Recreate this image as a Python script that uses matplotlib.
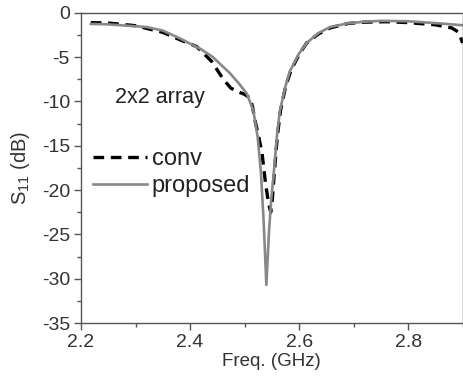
import numpy as np
import matplotlib
matplotlib.use("Agg")
from matplotlib import pyplot as plt
from matplotlib.ticker import MultipleLocator

plt.rcParams['font.family'] = ['Liberation Sans', 'DejaVu Sans']
plt.rcParams['mathtext.default'] = 'regular'
plt.rcParams['axes.unicode_minus'] = False

#### data
f_prop = [2.218, 2.25, 2.32, 2.35, 2.382, 2.42, 2.442, 2.473, 2.49, 2.504, 2.516,
          2.524, 2.530, 2.535, 2.540, 2.545, 2.549, 2.553, 2.56, 2.565, 2.575,
          2.583, 2.60, 2.614, 2.635, 2.657, 2.688, 2.72, 2.75, 2.80, 2.86, 2.90]
s_prop = [-1.25, -1.3, -1.6, -2.0, -2.9, -4.1, -5.0, -6.8, -8.0, -9.1, -11.0,
          -14.0, -18.0, -23.5, -30.7, -24.5, -21.0, -18.5, -13.5, -11.0, -8.3,
          -6.6, -4.6, -3.4, -2.3, -1.6, -1.2, -1.0, -0.9, -0.95, -1.2, -1.4]

f_conv = [2.218, 2.25, 2.30, 2.35, 2.38, 2.412, 2.44, 2.461, 2.475, 2.488, 2.50,
          2.510, 2.515, 2.519, 2.526, 2.532, 2.538, 2.544, 2.548, 2.551, 2.554,
          2.56, 2.566, 2.575, 2.585, 2.60, 2.614, 2.635, 2.657, 2.69, 2.72, 2.76,
          2.80, 2.85, 2.88, 2.893, 2.90]
s_conv = [-1.1, -1.15, -1.45, -2.2, -3.0, -3.8, -5.5, -7.5, -8.5, -8.9, -9.2,
          -9.6, -10.7, -12.1, -14.0, -15.8, -19.0, -21.5, -22.5, -21.0, -18.5,
          -14.0, -11.0, -8.4, -6.5, -4.7, -3.4, -2.4, -1.7, -1.2, -1.05, -1.0,
          -1.1, -1.35, -1.7, -2.2, -3.4]

yticks = [0, -5, -10, -15, -20, -25, -30, -35]
xticks = [2.2, 2.4, 2.6, 2.8]

fig = plt.figure(figsize=(4.64, 3.78), dpi=100)
fig.subplots_adjust(left=0.1746, right=0.997, bottom=0.1455, top=0.966)
ax = fig.add_subplot(111)

ax.plot(f_conv, s_conv, color='black', lw=2.4, ls=(0, (3.2, 2.0)), label='conv')
ax.plot(f_prop, s_prop, color='#888888', lw=1.9, label='proposed')

ax.set_xlim(2.2, 2.9)
ax.set_ylim(-35, 0)
ax.set_xticks(xticks)
ax.set_xticklabels([str(v) for v in xticks])
ax.set_yticks(yticks)
ax.set_yticklabels([str(v) for v in yticks])
ax.xaxis.set_minor_locator(MultipleLocator(0.1))
ax.yaxis.set_minor_locator(MultipleLocator(2.5))

for s in ax.spines.values():
    s.set_color('#555555')
    s.set_linewidth(1.0)
ax.tick_params(which='both', direction='out', top=False, right=False,
               color='#555555', labelsize=14, labelcolor='#333333')
ax.tick_params(which='major', length=5, width=1.0, pad=3)
ax.tick_params(which='minor', length=3, width=1.0)

ax.set_xlabel('Freq. (GHz)', fontsize=13.5, color='#333333', labelpad=1)
ax.set_ylabel('S$_{11}$ (dB)', fontsize=14.5, color='#333333', labelpad=7)

ax.text(0.089, 0.728, '2x2 array', transform=ax.transAxes, fontsize=15.5,
        va='center', ha='left', color='#222222')

leg = ax.legend(frameon=False, loc='center left', bbox_to_anchor=(0.031, 0.485),
                fontsize=17, handlelength=2.3, handletextpad=0.2,
                borderpad=0, borderaxespad=0, labelspacing=0.2)
for t in leg.get_texts():
    t.set_color('#222222')

fig.savefig('out.png', dpi=100)
